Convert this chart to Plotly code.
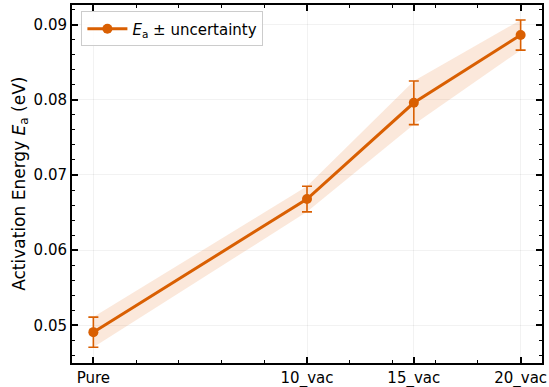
import plotly.graph_objects as go

categories = ["Pure", "10_vac", "15_vac", "20_vac"]
x_pos = [0, 10, 15, 20]
ea_values = [0.0491, 0.0668, 0.0796, 0.0886]
ea_err = [0.0020, 0.0017, 0.0029, 0.0020]
y_title = "Activation Energy <i>E</i><sub>a</sub> (eV)"

color = "#d95f02"
upper = [v + e for v, e in zip(ea_values, ea_err)]
lower = [v - e for v, e in zip(ea_values, ea_err)]

fig = go.Figure()
fig.add_trace(go.Scatter(
    x=x_pos + x_pos[::-1], y=upper + lower[::-1],
    fill="toself", fillcolor="rgba(230,110,30,0.16)",
    line=dict(width=0), mode="lines", showlegend=False, hoverinfo="skip"))
fig.add_trace(go.Scatter(
    x=x_pos, y=ea_values, mode="lines+markers",
    name="<i>E</i><sub>a</sub> ± uncertainty",
    line=dict(color=color, width=3),
    marker=dict(color=color, size=10),
    error_y=dict(type="data", array=ea_err, visible=True, color=color,
                 thickness=1.6, width=5)))

axis_common = dict(
    showline=True, linecolor="black", linewidth=2, mirror="allticks",
    ticks="inside", ticklen=6, tickwidth=1.5, tickcolor="black",
    showgrid=True, gridcolor="rgba(0,0,0,0.05)", gridwidth=1,
    zeroline=False, automargin=False,
    tickfont=dict(family="DejaVu Sans", size=15, color="black"),
)

fig.update_xaxes(
    range=[-1, 21], tickmode="array", tickvals=x_pos, ticktext=categories,
    minor=dict(tickmode="linear", tick0=0, dtick=2, ticks="inside",
               ticklen=3, tickwidth=1.2, tickcolor="black", showgrid=False),
    **axis_common)
fig.update_yaxes(
    range=[0.0450, 0.0926], tickmode="linear", tick0=0.05, dtick=0.01,
    tickformat=".2f",
    minor=dict(tickmode="linear", tick0=0.05, dtick=0.002, ticks="inside",
               ticklen=3, tickwidth=1.2, tickcolor="black", showgrid=False),
    **axis_common)

fig.add_annotation(
    text=y_title, textangle=-90, xref="paper", yref="paper",
    x=-0.111, y=0.50, xanchor="center", yanchor="middle", showarrow=False,
    font=dict(family="DejaVu Sans", size=17, color="black"))

fig.update_layout(
    width=549, height=387,
    margin=dict(l=72, r=7, t=5, b=24),
    plot_bgcolor="white", paper_bgcolor="white",
    font=dict(family="DejaVu Sans", size=15, color="black"),
    legend=dict(x=0.02, y=0.982, xanchor="left", yanchor="top",
                bgcolor="rgba(255,255,255,0.85)", bordercolor="#cccccc",
                borderwidth=1, font=dict(size=15),
                tracegroupgap=0, itemwidth=40),
)

fig.write_html("out.html", config={"displayModeBar": False},
               post_script="document.body.style.margin='0';document.body.style.padding='0';")
